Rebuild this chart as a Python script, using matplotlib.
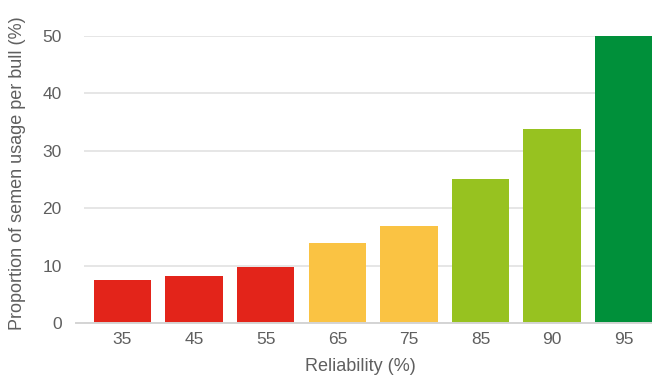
import matplotlib
matplotlib.use("Agg")
import matplotlib.pyplot as plt
import numpy as np

# Data
reliability = ["35", "45", "55", "65", "75", "85", "90", "95"]
usage = [7.5, 8.2, 9.8, 14.0, 16.9, 25.1, 33.8, 50.0]
bar_colors = ["#E3241A", "#E3241A", "#E3241A", "#FAC343", "#FAC343",
              "#97C220", "#97C220", "#00903A"]
y_ticks = [0, 10, 20, 30, 40, 50]

plt.rcParams["font.family"] = ["Liberation Sans", "DejaVu Sans"]

W, H = 652, 376
fig = plt.figure(figsize=(W / 100, H / 100), dpi=100)
left, right, bottom, top = 84, 652, 323.3, 36
ax = fig.add_axes([left / W, (H - bottom) / H, (right - left) / W, (bottom - top) / H])

x = np.arange(len(reliability))
ax.bar(x, usage, width=0.8, color=bar_colors, zorder=3)

ax.set_xlim(-0.538, 7.395)
ax.set_ylim(0, 50)
ax.set_yticks(y_ticks)
ax.set_xticks(x)
ax.set_xticklabels(reliability)
ax.grid(axis="y", color="#e2e2e2", linewidth=1.2, zorder=0)
ax.set_axisbelow(True)
for s in ax.spines.values():
    s.set_visible(False)
ax.tick_params(axis="both", length=0, labelsize=12.5, colors="#5f5f5f")
ax.tick_params(axis="y", pad=16)
ax.tick_params(axis="x", pad=6)

# baseline extending slightly past the plot's left edge
ax.plot([-0.014, 1.0], [0, 0], transform=ax.transAxes, color="#d4d4d4",
        linewidth=1.4, clip_on=False, zorder=4)

ax.set_xlabel("Reliability (%)", fontsize=13, color="#5f5f5f")
ax.xaxis.set_label_coords((360 - left) / (right - left), -(358 - bottom) / (bottom - top))
ax.set_ylabel("Proportion of semen usage per bull (%)", fontsize=13, color="#5f5f5f")
ax.yaxis.set_label_coords(-(left - 26) / (right - left), (bottom - 173) / (bottom - top))

fig.savefig("out.png", dpi=100)
